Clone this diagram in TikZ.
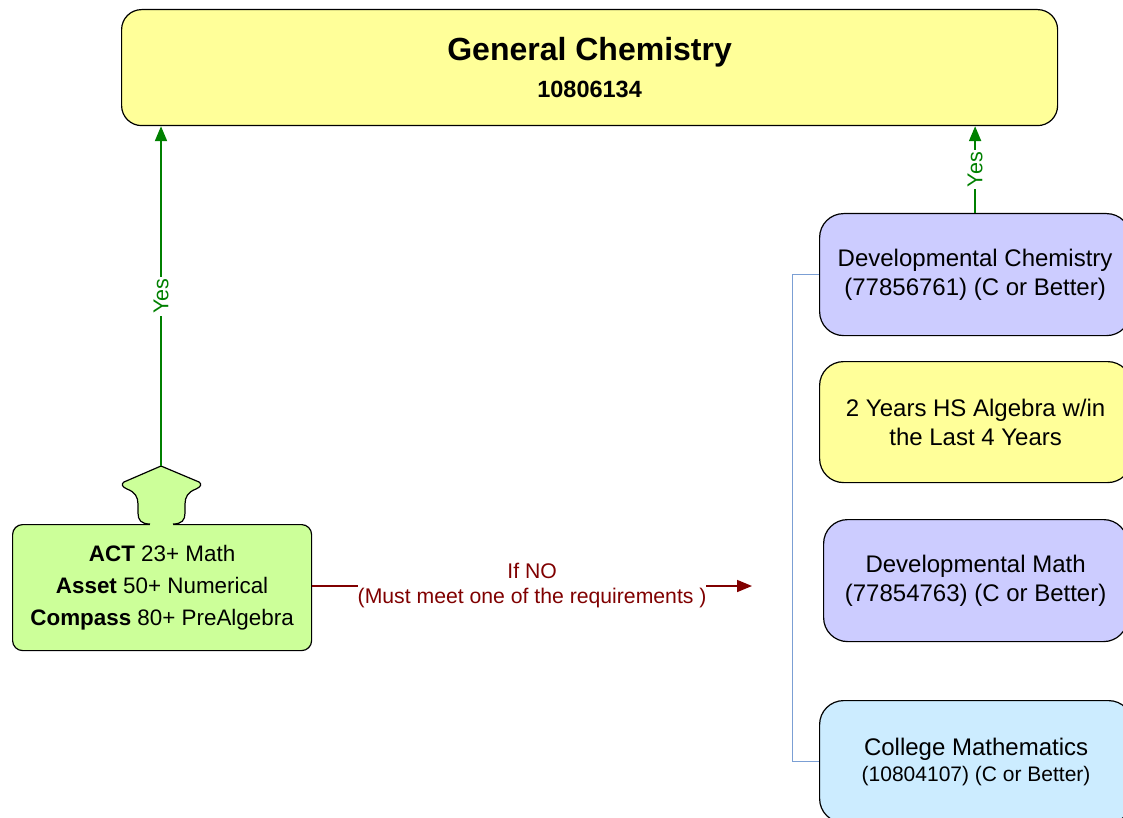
\documentclass[tikz,border=0pt]{standalone}
\usepackage{fontspec}
\setmainfont{Liberation Sans}
\usetikzlibrary{arrows.meta}
\definecolor{topyellow}{HTML}{FFFF99}
\definecolor{lav}{HTML}{CCCCFF}
\definecolor{lblue}{HTML}{CCECFF}
\definecolor{tagg}{HTML}{CCFF99}
\definecolor{yesgreen}{HTML}{008000}
\definecolor{nored}{HTML}{800000}
\definecolor{brblue}{HTML}{7B9FD4}
\tikzset{
  box/.style={draw=black, line width=1.2pt, rounded corners=24pt, align=center, inner sep=0pt,
    font=\fontsize{24}{29}\selectfont},
  yesline/.style={draw=yesgreen, line width=2pt, -{Triangle[width=12pt,length=15pt]}},
  yeslbl/.style={rotate=90, fill=white, text=yesgreen, inner sep=2pt, font=\fontsize{21.5}{24}\selectfont},
  noline/.style={draw=nored, line width=1.6pt, -{Triangle[width=12pt,length=15pt]}},
  nolbl/.style={fill=white, text=nored, align=center, inner xsep=0pt, inner ysep=1pt, font=\fontsize{21.2}{25}\selectfont},
  bracket/.style={draw=brblue, line width=0.9pt},
  outl/.style={draw=black, line width=1.2pt}
}
\begin{document}
\begin{tikzpicture}[x=1pt,y=-1pt]
\useasboundingbox (0,0) rectangle (1123,818);
% top box
\node[box, fill=topyellow, rounded corners=20pt, minimum width=936pt, minimum height=116pt, anchor=north west,
  font=\bfseries\fontsize{32}{37}\selectfont] (gc) at (121,9)
  {General Chemistry\\{\fontsize{23.5}{26}\selectfont 10806134}};
% tag body
\node[outl, fill=tagg, rounded corners=10pt, minimum width=299pt, minimum height=126pt, anchor=north west,
  align=center, inner sep=0pt, font=\fontsize{22.4}{32}\selectfont] (tag) at (12,524)
  {\textbf{ACT} 23+ Math\\\textbf{Asset} 50+ Numerical\\\textbf{Compass} 80+ PreAlgebra};
\coordinate (tagtip) at (161,466);
% bump fill
\fill[tagg] (150,524) .. controls (141,524) and (138,520) .. (138,513) -- (138,504)
  .. controls (138,497) and (135,492) .. (127,489) .. controls (122,487) and (121,484) .. (124,482)
  -- (tagtip) -- (199,482) .. controls (202,484) and (201,487) .. (196,489)
  .. controls (188,492) and (185,497) .. (185,504) -- (185,513)
  .. controls (185,520) and (182,524) .. (173,524) -- (173,528) -- (150,528) -- cycle;
\draw[outl, line join=round] (150,524) .. controls (141,524) and (138,520) .. (138,513) -- (138,504)
  .. controls (138,497) and (135,492) .. (127,489) .. controls (122,487) and (121,484) .. (124,482)
  -- (tagtip) -- (199,482) .. controls (202,484) and (201,487) .. (196,489)
  .. controls (188,492) and (185,497) .. (185,504) -- (185,513)
  .. controls (185,520) and (182,524) .. (173,524);
% right boxes
\node[box, fill=lav, minimum width=311pt, minimum height=122pt, anchor=north west] (dc) at (819,213)
  {Developmental Chemistry\\(77856761) (C or Better)};
\node[box, fill=topyellow, minimum width=312pt, minimum height=121pt, anchor=north west] (alg) at (819,361)
  {2 Years HS Algebra w/in\\the Last 4 Years};
\node[box, fill=lav, minimum width=304pt, minimum height=122pt, anchor=north west] (dm) at (823,519)
  {Developmental Math\\(77854763) (C or Better)};
\node[box, fill=lblue, minimum width=313pt, minimum height=122pt, anchor=north west,
  font=\fontsize{24}{26}\selectfont] (cm) at (819,700)
  {College Mathematics\\{\fontsize{21}{26}\selectfont (10804107) (C or Better)}};
% connectors
\draw[yesline] (tagtip) -- node[yeslbl]{Yes} (gc.south -| tagtip);
\draw[yesline] (dc.north) -- node[yeslbl]{Yes} (gc.south -| dc.north);
\coordinate (noend) at (752,586);
\draw[noline] (tag.east |- noend) -- node[nolbl]{If NO\\(Must meet one of the requirements )} (noend);
\draw[bracket] (dc.west) -- ++(-27,0) |- (cm.west);
\end{tikzpicture}
\end{document}
